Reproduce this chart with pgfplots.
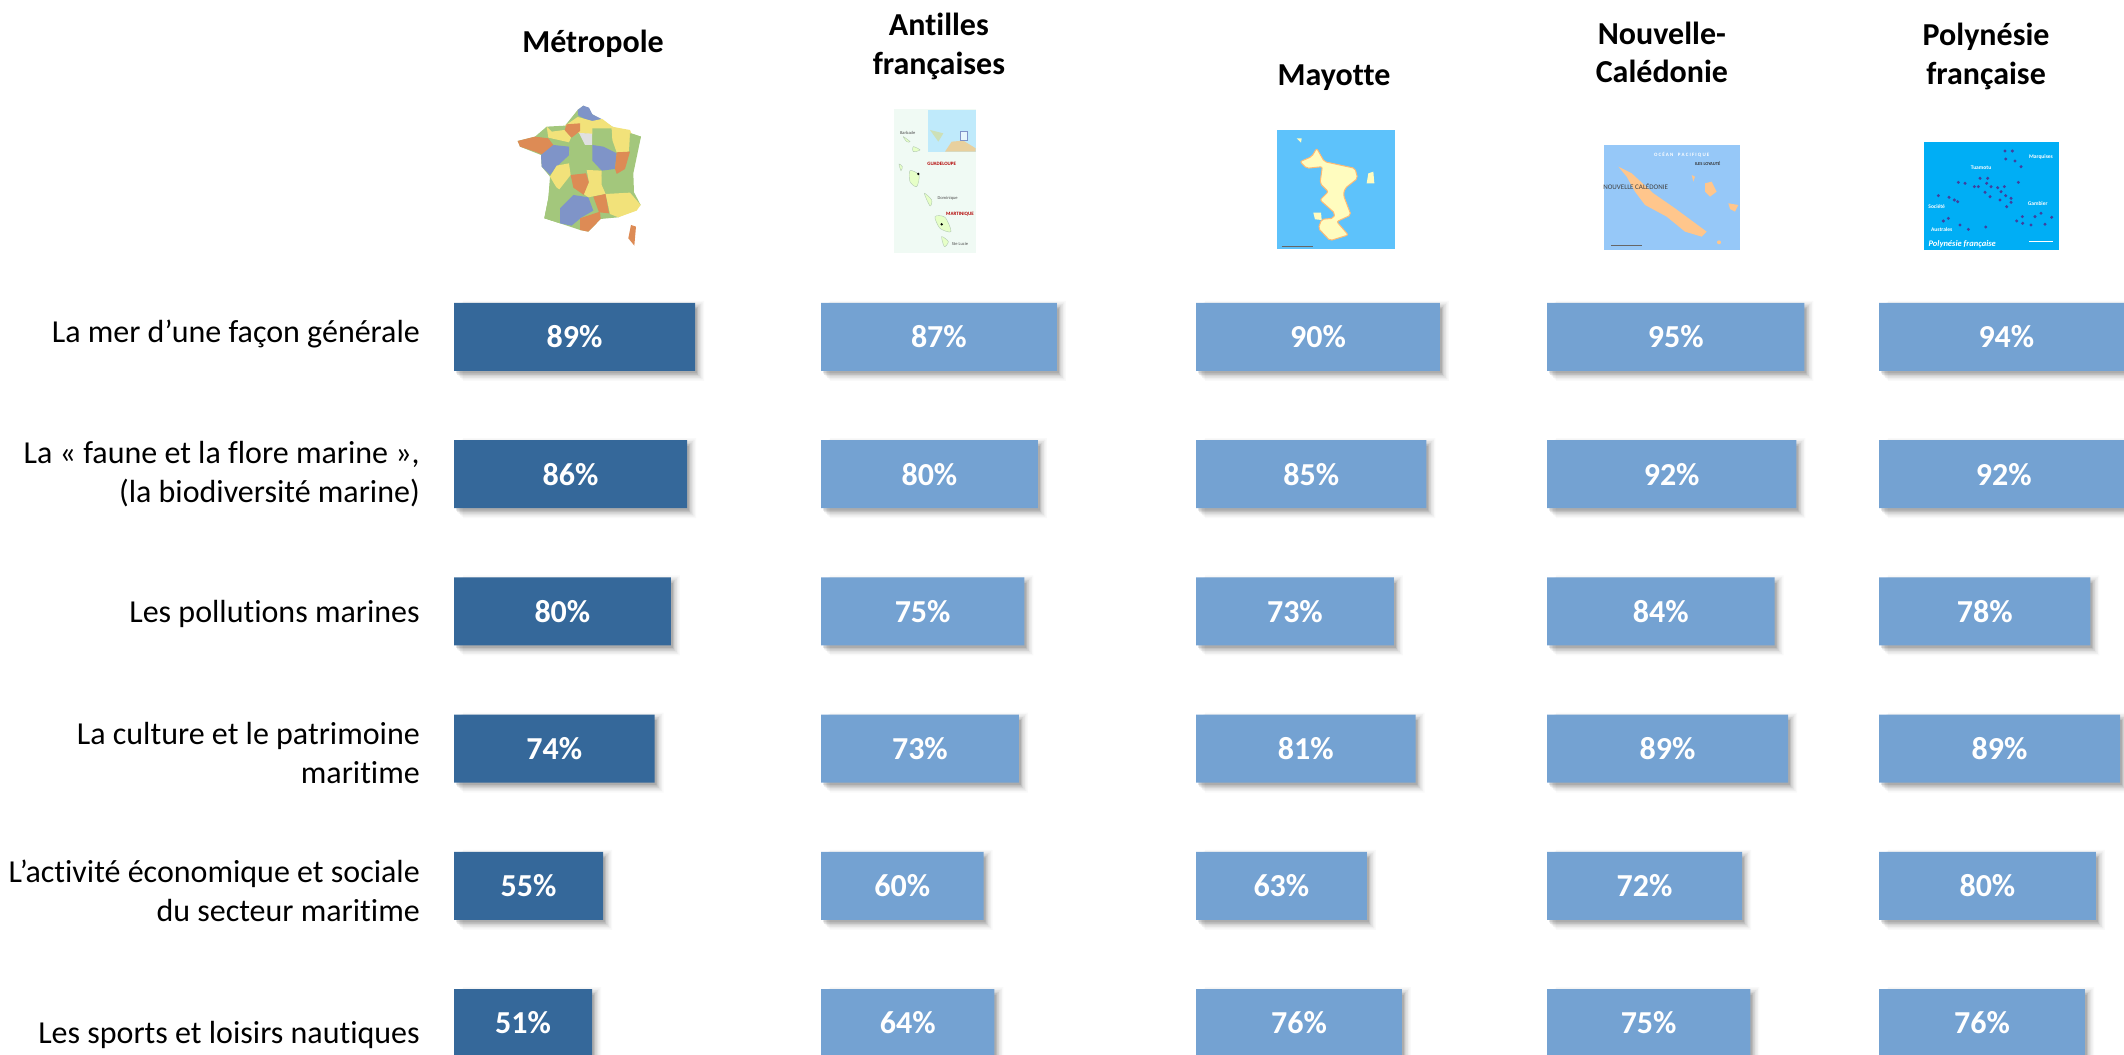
\documentclass[border=0pt]{standalone}
\usepackage{fontspec}
\setmainfont[Ligatures=NoCommon]{Carlito}
\usepackage{pgfplots}
\usepackage{pgfplotstable}
\pgfplotsset{compat=1.18}
\definecolor{darkbar}{HTML}{35689A}
\definecolor{lightbar}{HTML}{74A2D2}
\definecolor{mO}{HTML}{DD8B55}
\definecolor{mY}{HTML}{F2E27A}
\definecolor{mG}{HTML}{A3C77C}
\definecolor{mB}{HTML}{7F94C8}
\definecolor{seaM}{HTML}{5DC2FB}
\definecolor{seaN}{HTML}{96C8F8}
\definecolor{seaP}{HTML}{00AEF5}
\pgfplotstableread{
row met ant may nc pf
0 89 87 90 95 94
1 86 80 85 92 92
2 80 75 73 84 78
3 74 73 81 89 89
4 55 60 63 72 80
5 51 64 76 75 76
}\data
\newcommand\titlefont{\bfseries\fontsize{32}{38.5}\selectfont}
\newcommand\labelfont{\fontsize{32}{38.8}\selectfont}
\newcommand\valuefont{\bfseries\fontsize{32}{38}\selectfont}
\newcommand\isle[1]{\fill[green!45!yellow!22,draw=green!30!black!30] plot[smooth cycle] coordinates {#1};}
\pgfplotsset{
  /pgf/number format/assume math mode=true,
  panel/.style={
    scale only axis,
    anchor=south west,
    height=785.6pt,
    ymin=-0.5,ymax=5.226,
    xmin=0,
    y dir=reverse,
    axis line style={draw=none},
    major tick length=0pt,
    xtick=\empty,
    title style={anchor=center,align=center,font=\titlefont},
  },
  full/.style={width=271pt,xmax=100},
}
\newcommand{\shadowbar}[5]{% column, bar width, opacity, xshift
  \addplot[xbar,bar width=#2,draw=none,fill=black,opacity=#3,xshift=#4,yshift=-4pt,forget plot] table[x=#1,y=row]{\data};
}
\newcommand{\barset}[2]{
  \shadowbar{#1}{80pt}{.025}{9pt}{}
  \shadowbar{#1}{77pt}{.04}{7.5pt}{}
  \shadowbar{#1}{74pt}{.05}{6pt}{}
  \shadowbar{#1}{71pt}{.07}{4.5pt}{}
  \shadowbar{#1}{68pt}{.09}{3pt}{}
  \shadowbar{#1}{65pt}{.10}{2pt}{}
  \addplot[xbar,bar width=68pt,draw=none,fill=#2,forget plot] table[x=#1,y=row]{\data};
  \addplot[draw=none,mark=none,forget plot,
    nodes near coords={\pgfmathprintnumber{\pgfplotspointmeta}\%},
    nodes near coords style={anchor=center,text=white,font=\valuefont},
    point meta=\thisrow{#1}] table[x expr=\thisrow{#1}/2,y=row]{\data};
}
\begin{document}
\begin{tikzpicture}
\path[use as bounding box,clip] (0pt,0pt) rectangle (2124pt,1054pt);

% ---- France
\begin{scope}[shift={(505pt,959pt)},x=.3333pt,y=-.3333pt]
\fill[mG] (38,138)--(90,125)--(125,95)--(180,92)--(218,45)--(235,32)--(262,58)--(322,95)--(408,125)--(385,235)--(387,292)--(407,330)--(340,367)--(287,372)--(250,410)--(225,405)--(165,385)--(118,370)--(130,310)--(135,245)--(110,215)--(108,180)--(45,155)--cycle;
\fill[mB] (218,45)--(235,32)--(252,38)--(262,58)--(290,72)--(262,80)--(240,72)--(220,62)--cycle;
\fill[mY] (180,92)--(218,66)--(262,78)--(292,72)--(322,95)--(322,125)--(262,118)--(222,114)--cycle;
\fill[mO] (185,88)--(225,85)--(225,108)--(200,128)--(178,108)--cycle;
\fill[mY] (125,95)--(140,110)--(178,105)--(198,128)--(192,142)--(130,128)--cycle;
\fill[mO] (38,138)--(90,125)--(130,130)--(145,150)--(115,180)--(90,170)--(45,155)--cycle;
\fill[mB] (108,180)--(145,150)--(192,155)--(195,178)--(155,215)--(135,240)--(110,215)--cycle;
\fill[mG] (195,142)--(222,125)--(262,150)--(262,197)--(225,232)--(195,207)--(192,175)--cycle;
\fill[black!12] (222,114)--(262,116)--(262,150)--(240,150)--cycle;
\fill[mG] (262,100)--(320,100)--(322,140)--(295,155)--(262,150)--cycle;
\fill[mY] (320,95)--(375,105)--(385,130)--(372,170)--(335,172)--(322,135)--cycle;
\fill[mG] (375,115)--(408,125)--(390,165)--(372,170)--cycle;
\fill[mB] (262,150)--(295,155)--(335,175)--(330,222)--(290,227)--(262,197)--cycle;
\fill[mO] (335,172)--(375,170)--(360,222)--(335,237)--(330,222)--cycle;
\fill[mY] (155,212)--(192,205)--(197,240)--(160,287)--(135,245)--cycle;
\fill[mO] (197,240)--(243,235)--(252,262)--(237,300)--(205,278)--cycle;
\fill[mY] (245,225)--(290,227)--(290,270)--(302,297)--(250,307)--(237,298)--(252,262)--cycle;
\fill[mG] (290,240)--(330,237)--(375,235)--(387,292)--(340,305)--(302,295)--cycle;
\fill[mG] (135,265)--(165,285)--(205,283)--(205,305)--(165,340)--(165,385)--(118,370)--(130,310)--cycle;
\fill[mB] (205,300)--(250,307)--(265,347)--(230,367)--(200,392)--(165,385)--(165,340)--cycle;
\fill[mO] (265,305)--(302,297)--(312,355)--(282,352)--cycle;
\fill[mO] (225,370)--(285,350)--(287,372)--(250,410)--(225,405)--cycle;
\fill[mY] (302,297)--(375,293)--(407,330)--(395,347)--(340,367)--(315,357)--cycle;
\fill[mO] (378,390)--(393,395)--(388,452)--(370,430)--cycle;
\end{scope}

% ---- Antilles
\begin{scope}[shift={(885pt,954pt)},x=.3333pt,y=-.3333pt]
\fill[blue!30!green!6] (28,28) rectangle (272,458);
\fill[cyan!25] (130,30) rectangle (272,155);
\fill[mY!50!brown!60] (180,155)--(200,125)--(235,122)--(272,145)--(272,155)--cycle;
\fill[mG!55] (135,90)--(175,100)--(160,125)--cycle;
\draw[mB,fill=cyan!10] (225,95) rectangle (247,120);
\isle{(55,110)(75,125)(65,125)}
\isle{(85,140)(105,150)(85,155)}
\isle{(42,192)(52,200)(48,212)}
\isle{(75,212)(102,225)(95,260)(75,245)}
\isle{(118,280)(140,300)(135,318)}
\isle{(150,350)(180,352)(198,395)(165,385)}
\isle{(170,410)(190,425)(178,440)}
\fill[black] (100,222) circle[radius=4];
\fill[black] (170,373) circle[radius=4];
\node[text=red!70!black,font=\bfseries\fontsize{5}{5}\selectfont] at (170,192) {GUADELOUPE};
\node[text=red!70!black,font=\bfseries\fontsize{5}{5}\selectfont] at (225,342) {MARTINIQUE};
\node[text=black!70,font=\fontsize{4.5}{5}\selectfont] at (68,100) {Barbade};
\node[text=black!70,font=\fontsize{4.5}{5}\selectfont] at (188,295) {Dominique};
\node[text=black!70,font=\fontsize{4.5}{5}\selectfont] at (225,432) {Ste Lucie};
\end{scope}

% ---- Mayotte
\begin{scope}[shift={(1265pt,934pt)},x=.3333pt,y=-.3333pt]
\fill[seaM] (37,30) rectangle (390,388);
\draw[orange!55,fill=yellow!25,line width=1pt,rounded corners=2pt] (155,85)--(178,125)--(270,145)--(278,175)--(240,205)--(235,225)--(258,285)--(215,305)--(250,345)--(195,362)--(160,325)--(170,298)--(205,295)--(210,280)--(165,240)--(190,215)--(165,190)--(172,140)--(125,145)--(105,125)--(140,110)--cycle;
\fill[yellow!25] (310,160)--(325,155)--(328,190)--(305,190)--cycle;
\fill[yellow!25] (95,55)--(110,55)--(108,68)--cycle;
\fill[yellow!25] (145,278)--(168,278)--(170,300)--(150,298)--cycle;
\draw[black!60] (50,380)--(145,380);
\end{scope}

% ---- Nouvelle-Caledonie
\begin{scope}[shift={(1595pt,919pt)},x=.3333pt,y=-.3333pt]
\fill[seaN] (27,30) rectangle (435,345);
\fill[orange!45] (70,95)--(110,115)--(175,175)--(240,220)--(335,290)--(320,305)--(270,290)--(215,245)--(150,210)--(120,170)--(95,125)--cycle;
\fill[orange!45] (330,145)--(350,140)--(365,170)--(345,185)--(330,170)--cycle;
\fill[orange!45] (400,205)--(430,210)--(420,230)--(405,222)--cycle;
\fill[orange!45] (290,120)--(300,125)--(295,140)--cycle;
\fill[orange!45] (372,322) circle[radius=6];
\node[text=black!75,font=\fontsize{7}{7}\selectfont] at (122,155) {NOUVELLE CALÉDONIE};
\node[text=white,font=\bfseries\fontsize{5}{5}\selectfont] at (260,60) {O C É A N \ \ \ P A C I F I Q U E};
\node[text=black!80,font=\bfseries\fontsize{4.5}{5}\selectfont] at (338,85) {ILES LOYAUTÉ};
\draw[black!60] (48,330)--(140,330);
\end{scope}

% ---- Polynesie
\begin{scope}[shift={(1915pt,919pt)},x=.3333pt,y=-.3333pt]
\fill[seaP] (27,20) rectangle (432,345);
\foreach \q in {(270,48),(292,48),(272,72),(300,78),(318,95),(130,142),(150,145),(178,155),(190,155),(195,130),(218,130),(215,145),(228,155),(210,172),(225,185),(248,158),(268,155),(258,170),(272,182),(288,190),(288,202),(310,142),(255,195),(275,215),(70,182),(102,187),(118,195),(128,200),(100,250),(135,270),(212,276),(160,283),(85,258),(322,245),(360,245),(410,247),(390,268),(323,265),(305,258),(378,235),(348,270)}{
  \fill[blue!50!black!75] \q circle[radius=5];
}
\node[text=white,font=\bfseries\itshape\fontsize{8.5}{9}\selectfont,anchor=west] at (30,328) {Polynésie française};
\node[text=white,font=\bfseries\fontsize{5.5}{6}\selectfont] at (198,98) {Tuamotu};
\node[text=white,font=\bfseries\fontsize{5.5}{6}\selectfont] at (378,66) {Marquises};
\node[text=white,font=\bfseries\fontsize{5.5}{6}\selectfont] at (368,205) {Gambier};
\node[text=white,font=\bfseries\fontsize{5.5}{6}\selectfont] at (65,214) {Société};
\node[text=white,font=\bfseries\fontsize{5.5}{6}\selectfont] at (80,284) {Australes};
\draw[white] (343,320)--(415,320);
\end{scope}

% ---- bars
\begin{axis}[panel,full,at={(454pt,0pt)},
  title={Métropole},title style={at={(axis description cs:0.513,1.278)}},
  ytick={-0.02,1.0,2.02,3.03,4.036,5.086},
  yticklabels={La mer d’une façon générale,{La «~faune et la flore marine~»,\\(la biodiversité marine)},Les pollutions marines,{La culture et le patrimoine\\maritime},{L’activité économique et sociale\\du secteur maritime},Les sports et loisirs nautiques},
  yticklabel style={align=right,font=\labelfont,inner sep=0pt,xshift=-34pt},
]
\barset{met}{darkbar}
\end{axis}
\begin{axis}[panel,full,at={(821pt,0pt)},ytick=\empty,
  title={Antilles\\françaises},title style={at={(axis description cs:0.435,1.275)}}]
\barset{ant}{lightbar}
\end{axis}
\begin{axis}[panel,full,at={(1196pt,0pt)},ytick=\empty,
  title={Mayotte},title style={at={(axis description cs:0.509,1.235)}}]
\barset{may}{lightbar}
\end{axis}
\begin{axis}[panel,full,at={(1547pt,0pt)},ytick=\empty,
  title={Nouvelle-\\Calédonie},title style={at={(axis description cs:0.424,1.267)}}]
\barset{nc}{lightbar}
\end{axis}
\begin{axis}[panel,width=245pt,xmax=90.4,at={(1879pt,0pt)},ytick=\empty,
  title={Polynésie\\française},title style={at={(axis description cs:0.437,1.262)}}]
\barset{pf}{lightbar}
\end{axis}
\end{tikzpicture}
\end{document}
